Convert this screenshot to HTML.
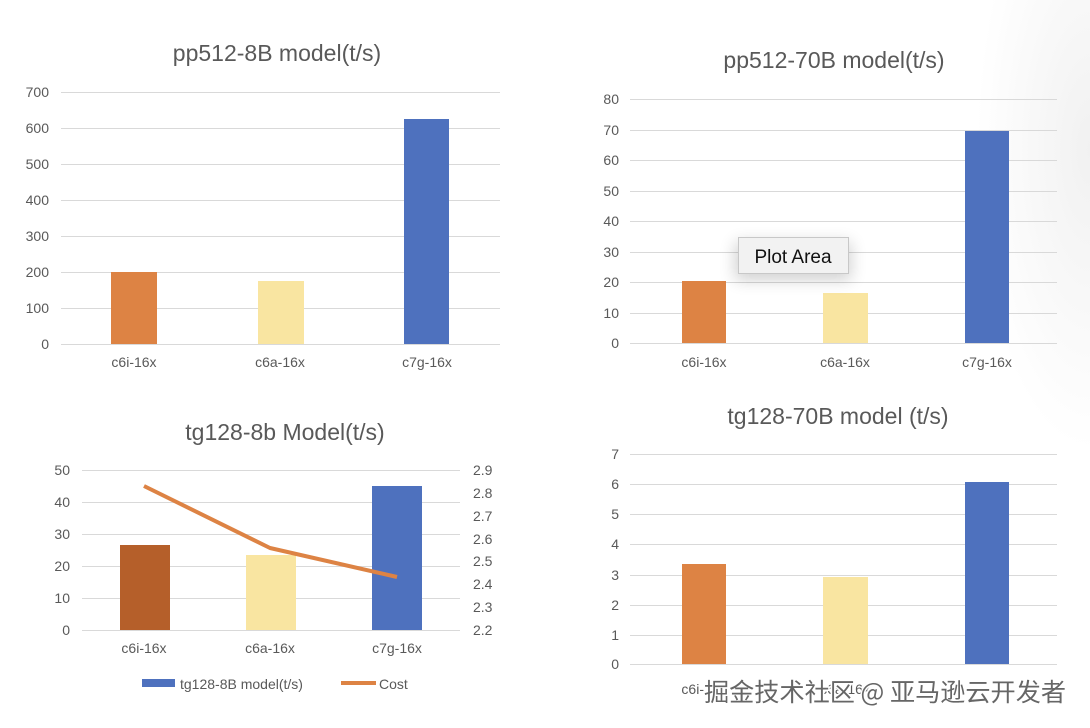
<!DOCTYPE html>
<html><head><meta charset="utf-8"><style>
html,body{margin:0;padding:0;background:#fff;}
svg{display:block;font-family:"Liberation Sans","Noto Sans CJK SC",sans-serif;}
</style></head><body>
<svg width="1090" height="728" viewBox="0 0 1090 728" xmlns="http://www.w3.org/2000/svg">
<defs>
<radialGradient id="bg" cx="1" cy="0.3" r="0.6">
<stop offset="0" stop-color="#f1f1f1"/><stop offset="1" stop-color="#fff"/></radialGradient>
<filter id="sh" x="-50%" y="-50%" width="200%" height="200%"><feGaussianBlur stdDeviation="8"/></filter>
</defs>
<rect width="1090" height="728" fill="#fff"/>
<rect x="900" y="0" width="190" height="500" fill="url(#bg)"/>

<!-- Chart 1 -->
<text x="277" y="61" font-size="23" fill="#595959" text-anchor="middle">pp512-8B model(t/s)</text>
<g stroke="#d9d9d9" stroke-width="1">
<line x1="61" x2="500" y1="92.5" y2="92.5"/><line x1="61" x2="500" y1="128.5" y2="128.5"/>
<line x1="61" x2="500" y1="164.5" y2="164.5"/><line x1="61" x2="500" y1="200.5" y2="200.5"/>
<line x1="61" x2="500" y1="236.5" y2="236.5"/><line x1="61" x2="500" y1="272.5" y2="272.5"/>
<line x1="61" x2="500" y1="308.5" y2="308.5"/><line x1="61" x2="500" y1="344.5" y2="344.5"/>
</g>
<g font-size="14" fill="#595959" text-anchor="end">
<text x="49" y="97">700</text><text x="49" y="133">600</text><text x="49" y="169">500</text>
<text x="49" y="205">400</text><text x="49" y="241">300</text><text x="49" y="277">200</text>
<text x="49" y="313">100</text><text x="49" y="349">0</text>
</g>
<rect x="111" y="272" width="46" height="72" fill="#dd8344"/>
<rect x="258" y="281" width="46" height="63" fill="#f9e5a1"/>
<rect x="404" y="119" width="45" height="225" fill="#4e71be"/>
<g font-size="14" fill="#595959" text-anchor="middle">
<text x="134" y="367">c6i-16x</text><text x="280" y="367">c6a-16x</text><text x="427" y="367">c7g-16x</text>
</g>

<!-- Chart 2 -->
<text x="834" y="68" font-size="23" fill="#595959" text-anchor="middle">pp512-70B model(t/s)</text>
<g stroke="#d9d9d9" stroke-width="1">
<line x1="630" x2="1057" y1="99.5" y2="99.5"/><line x1="630" x2="1057" y1="130.5" y2="130.5"/>
<line x1="630" x2="1057" y1="160.5" y2="160.5"/><line x1="630" x2="1057" y1="191.5" y2="191.5"/>
<line x1="630" x2="1057" y1="221.5" y2="221.5"/><line x1="630" x2="1057" y1="252.5" y2="252.5"/>
<line x1="630" x2="1057" y1="282.5" y2="282.5"/><line x1="630" x2="1057" y1="313.5" y2="313.5"/>
<line x1="630" x2="1057" y1="343.5" y2="343.5"/>
</g>
<g font-size="14" fill="#595959" text-anchor="end">
<text x="619" y="104">80</text><text x="619" y="135">70</text><text x="619" y="165">60</text>
<text x="619" y="196">50</text><text x="619" y="226">40</text><text x="619" y="257">30</text>
<text x="619" y="287">20</text><text x="619" y="318">10</text><text x="619" y="348">0</text>
</g>
<rect x="682" y="281" width="44" height="62" fill="#dd8344"/>
<rect x="823" y="293" width="45" height="50" fill="#f9e5a1"/>
<rect x="965" y="131" width="44" height="212" fill="#4e71be"/>
<g font-size="14" fill="#595959" text-anchor="middle">
<text x="704" y="367">c6i-16x</text><text x="845" y="367">c6a-16x</text><text x="987" y="367">c7g-16x</text>
</g>
<rect x="735" y="242" width="116" height="38" fill="#000" opacity="0.18" filter="url(#sh)"/>
<rect x="738.5" y="237.5" width="110" height="36" fill="#f2f2f2" stroke="#c8c8c8"/>
<text x="793" y="263" font-size="19" fill="#111" text-anchor="middle">Plot Area</text>

<!-- Chart 3 -->
<text x="285" y="440" font-size="23" fill="#595959" text-anchor="middle">tg128-8b Model(t/s)</text>
<g stroke="#d9d9d9" stroke-width="1">
<line x1="82" x2="460" y1="470.5" y2="470.5"/><line x1="82" x2="460" y1="502.5" y2="502.5"/>
<line x1="82" x2="460" y1="534.5" y2="534.5"/><line x1="82" x2="460" y1="566.5" y2="566.5"/>
<line x1="82" x2="460" y1="598.5" y2="598.5"/><line x1="82" x2="460" y1="630.5" y2="630.5"/>
</g>
<g font-size="14" fill="#595959" text-anchor="end">
<text x="70" y="475">50</text><text x="70" y="507">40</text><text x="70" y="539">30</text>
<text x="70" y="571">20</text><text x="70" y="603">10</text><text x="70" y="635">0</text>
</g>
<g font-size="14" fill="#595959" text-anchor="start">
<text x="473" y="475">2.9</text><text x="473" y="498">2.8</text><text x="473" y="521">2.7</text>
<text x="473" y="544">2.6</text><text x="473" y="566">2.5</text><text x="473" y="589">2.4</text>
<text x="473" y="612">2.3</text><text x="473" y="635">2.2</text>
</g>
<rect x="120" y="545" width="50" height="85" fill="#b55f2a"/>
<rect x="246" y="555" width="50" height="75" fill="#f9e5a1"/>
<rect x="372" y="486" width="50" height="144" fill="#4e71be"/>
<polyline points="144,486 270,548 397,577" fill="none" stroke="#dd8344" stroke-width="4" stroke-linejoin="round"/>
<g font-size="14" fill="#595959" text-anchor="middle">
<text x="144" y="653">c6i-16x</text><text x="270" y="653">c6a-16x</text><text x="397" y="653">c7g-16x</text>
</g>
<rect x="142" y="679" width="33" height="8" fill="#4e71be"/>
<text x="180" y="689" font-size="14" fill="#595959">tg128-8B model(t/s)</text>
<line x1="341" x2="376" y1="683" y2="683" stroke="#dd8344" stroke-width="4"/>
<text x="379" y="689" font-size="14" fill="#595959">Cost</text>

<!-- Chart 4 -->
<text x="838" y="424" font-size="23" fill="#595959" text-anchor="middle">tg128-70B model (t/s)</text>
<g stroke="#d9d9d9" stroke-width="1">
<line x1="630" x2="1057" y1="454.5" y2="454.5"/><line x1="630" x2="1057" y1="484.5" y2="484.5"/>
<line x1="630" x2="1057" y1="514.5" y2="514.5"/><line x1="630" x2="1057" y1="544.5" y2="544.5"/>
<line x1="630" x2="1057" y1="575.5" y2="575.5"/><line x1="630" x2="1057" y1="605.5" y2="605.5"/>
<line x1="630" x2="1057" y1="635.5" y2="635.5"/><line x1="630" x2="1057" y1="664.5" y2="664.5"/>
</g>
<g font-size="14" fill="#595959" text-anchor="end">
<text x="619" y="459">7</text><text x="619" y="489">6</text><text x="619" y="519">5</text>
<text x="619" y="549">4</text><text x="619" y="580">3</text><text x="619" y="610">2</text>
<text x="619" y="640">1</text><text x="619" y="669">0</text>
</g>
<rect x="682" y="564" width="44" height="100" fill="#dd8344"/>
<rect x="823" y="577" width="45" height="87" fill="#f9e5a1"/>
<rect x="965" y="482" width="44" height="182" fill="#4e71be"/>
<text x="704" y="694" font-size="14" fill="#595959" text-anchor="middle">c6i-16x</text>
<text x="845" y="694" font-size="14" fill="#595959" text-anchor="middle">c6a-16x</text>
<text x="704" y="701" font-size="25" fill="#666" stroke="#fff" stroke-width="3" paint-order="stroke" textLength="362" lengthAdjust="spacingAndGlyphs" font-family="'Noto Sans CJK SC','WenQuanYi Zen Hei',sans-serif">掘金技术社区 @ 亚马逊云开发者</text>
</svg>
</body></html>
